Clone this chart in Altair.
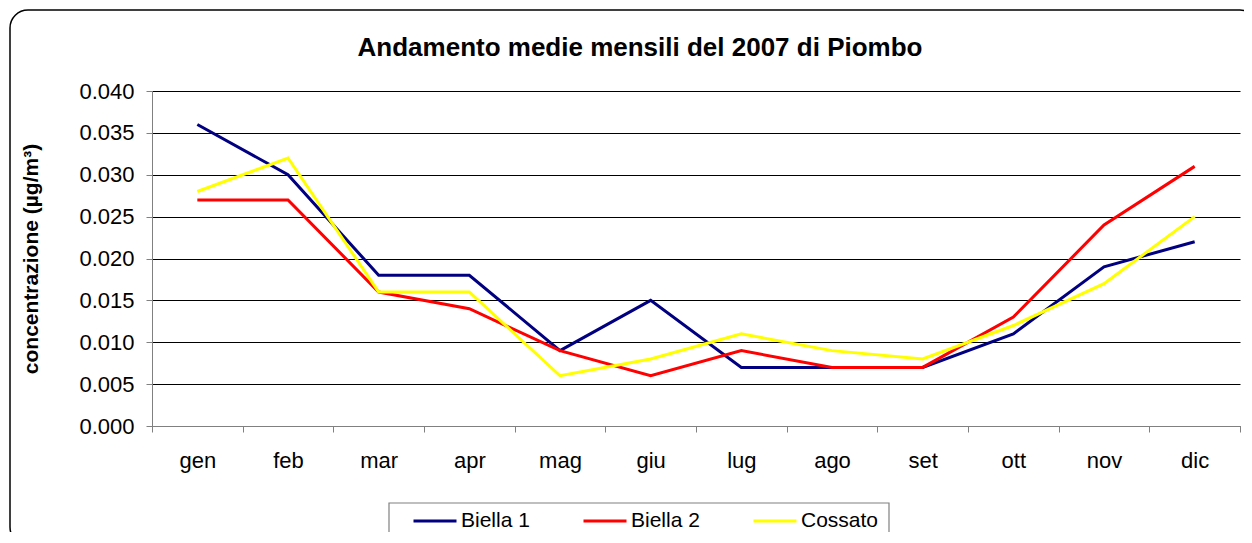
import altair as alt
import pandas as pd

months = ["gen", "feb", "mar", "apr", "mag", "giu", "lug", "ago", "set", "ott", "nov", "dic"]
biella1 = [0.036, 0.030, 0.018, 0.018, 0.009, 0.015, 0.007, 0.007, 0.007, 0.011, 0.019, 0.022]
biella2 = [0.027, 0.027, 0.016, 0.014, 0.009, 0.006, 0.009, 0.007, 0.007, 0.013, 0.024, 0.031]
cossato = [0.028, 0.032, 0.016, 0.016, 0.006, 0.008, 0.011, 0.009, 0.008, 0.012, 0.017, 0.025]
series_names = ["Biella 1", "Biella 2", "Cossato"]
series_colors = ["#000080", "#FF0000", "#FFFF00"]
y_ticks = [0.0, 0.005, 0.010, 0.015, 0.020, 0.025, 0.030, 0.035, 0.040]

rows = []
for name, vals in zip(series_names, [biella1, biella2, cossato]):
    for m, v in zip(months, vals):
        rows.append({"mese": m, "valore": v, "serie": name})
df = pd.DataFrame(rows)

FONT = "Liberation Sans"
W, H = 1088, 335

lines = alt.Chart(df).mark_line(strokeWidth=3).encode(
    x=alt.X("mese:N", sort=months,
            scale=alt.Scale(type="band", paddingInner=0, paddingOuter=0),
            axis=alt.Axis(title=None, labelAngle=0, tickBand="extent",
                          domainColor="#808080", tickColor="#808080", tickSize=6,
                          labelFontSize=22, labelPadding=18, labelColor="#000000",
                          grid=False)),
    y=alt.Y("valore:Q",
            scale=alt.Scale(domain=[0, 0.04], nice=False, zero=True),
            axis=alt.Axis(title="concentrazione (µg/m³)", values=y_ticks, format=".3f",
                          domainColor="#808080", tickColor="#808080", tickSize=6,
                          labelFontSize=22, labelPadding=12, labelColor="#000000",
                          grid=True, gridColor="#000000", gridWidth=1,
                          titleFontSize=21, titleFontWeight="bold", titleColor="#000000",
                          titlePadding=37)),
    color=alt.Color("serie:N",
                    scale=alt.Scale(domain=series_names, range=series_colors),
                    legend=alt.Legend(title=None, orient="none", direction="horizontal",
                                      columns=3, legendX=260, legendY=407,
                                      symbolType="stroke", symbolSize=1849,
                                      symbolStrokeWidth=3, labelOffset=3,
                                      columnPadding=47, padding=0,
                                      labelFontSize=21, labelColor="#000000")),
    order=alt.Order("mese_idx:Q"),
).transform_calculate(
    mese_idx="indexof(" + str(months) + ", datum.mese)"
)

deco = pd.DataFrame({"k": [0]})
frame = alt.Chart(deco).mark_rect(fill=None, fillOpacity=0, stroke="#000000",
                                  strokeWidth=1.5, cornerRadius=18).encode(
    x=alt.value(-142), x2=alt.value(1106), y=alt.value(-81), y2=alt.value(454))
legend_box = alt.Chart(deco).mark_rect(fill=None, fillOpacity=0, stroke="#808080",
                                       strokeWidth=1.2).encode(
    x=alt.value(237), x2=alt.value(737), y=alt.value(412), y2=alt.value(456))

chart = alt.layer(frame, legend_box, lines).properties(
    width=W, height=H,
    title=alt.TitleParams("Andamento medie mensili del 2007 di Piombo",
                          fontSize=26, fontWeight="bold", font=FONT, color="#000000",
                          anchor="middle", frame="group", dx=-56, offset=-73,
                          baseline="alphabetic"),
    autosize=alt.AutoSizeParams(type="none"),
    padding={"left": 144, "top": 83, "right": 4, "bottom": 106},
).configure(font=FONT).configure_view(stroke=None).configure_axis(
    labelFont=FONT, titleFont=FONT)

chart.save("out.html", embed_options={"renderer": "svg", "actions": False})
